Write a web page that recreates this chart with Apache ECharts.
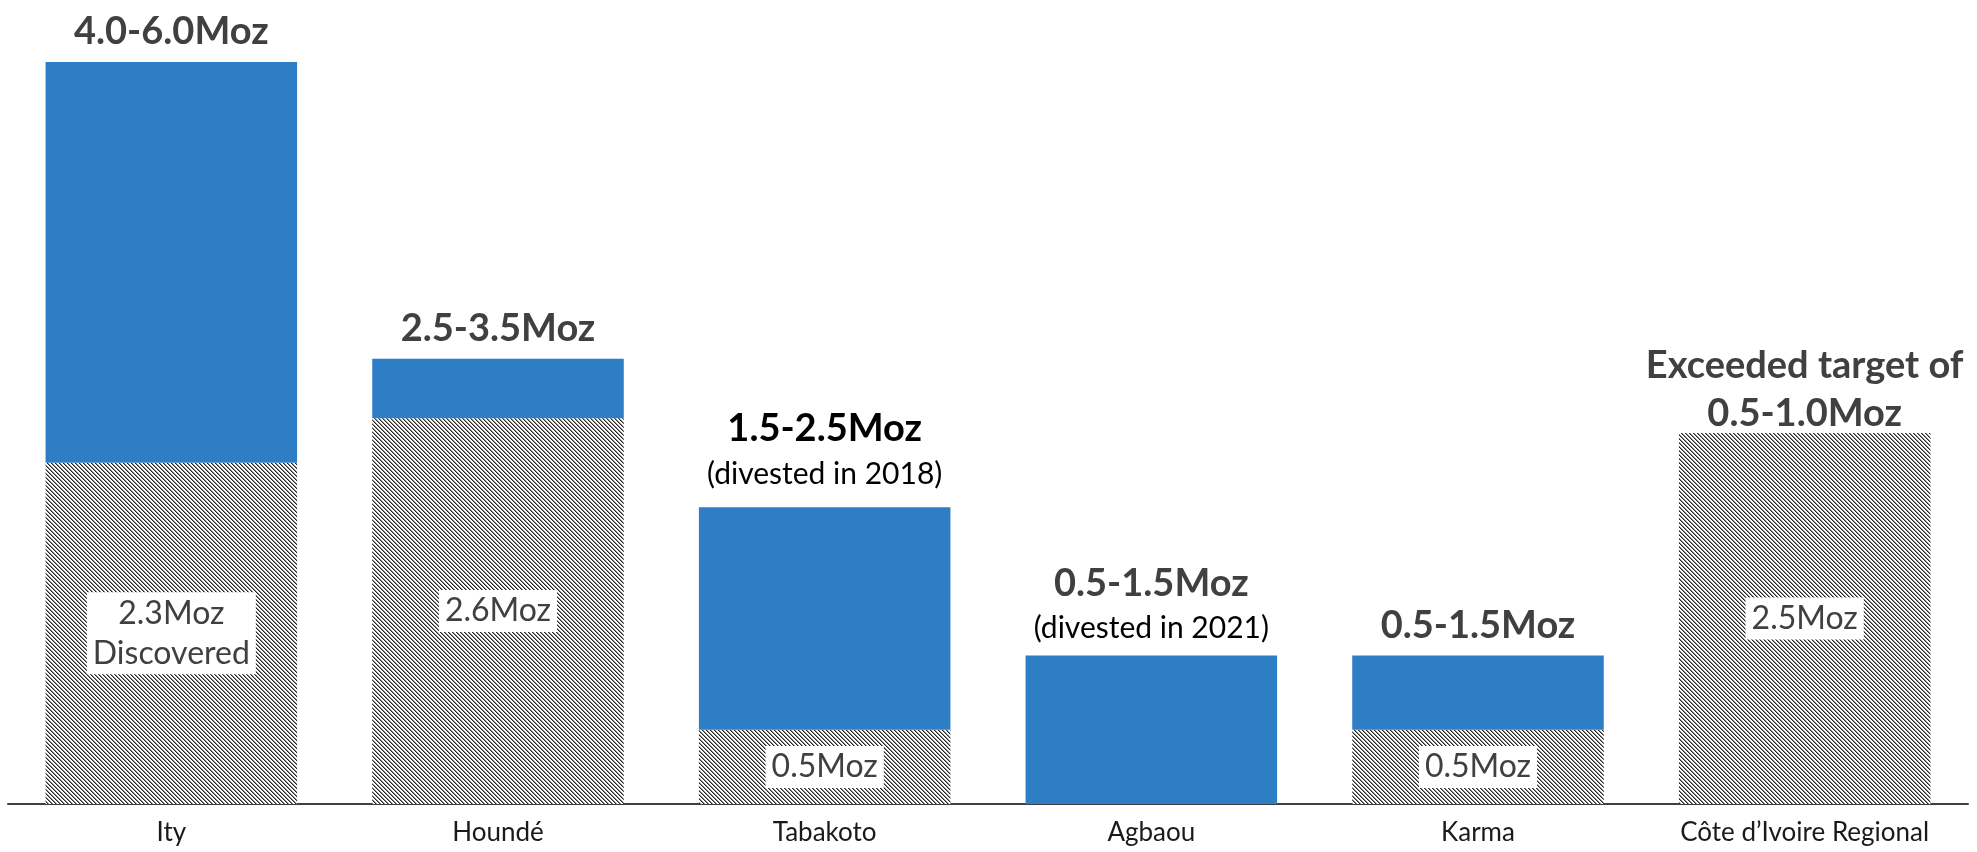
<!DOCTYPE html>
<html>
<head>
<meta charset="utf-8">
<script src="https://cdn.jsdelivr.net/npm/echarts@6/dist/echarts.min.js"></script>
<style>
  html, body { margin: 0; padding: 0; background: #fff; }
  #chart { width: 1977px; height: 852px; }
</style>
</head>
<body>
<div id="chart"></div>
<script>
// Project names along the axis
const projects = ['Ity', 'Houndé', 'Tabakoto', 'Agbaou', 'Karma', 'Côte d\u2019Ivoire Regional'];
// Ounces already discovered (Moz), drawn hatched at the base of each bar
const discovered = [2.3, 2.6, 0.5, 0, 0.5, 2.5];
// Remaining discovery target up to the range midpoint (Moz), drawn solid on top
const targetRemaining = [2.7, 0.4, 1.5, 1.0, 0.5, 0];
// Target range labels above each bar
const targetLabels = ['4.0-6.0Moz', '2.5-3.5Moz', '1.5-2.5Moz', '0.5-1.5Moz', '0.5-1.5Moz', 'Exceeded target of\n0.5-1.0Moz'];
// Secondary notes under the range labels
const targetNotes = ['', '', '(divested in 2018)', '(divested in 2021)', '', ''];
// Text inside the hatched part
const discoveredLabels = ['2.3Moz\nDiscovered', '2.6Moz', '0.5Moz', '', '0.5Moz', '2.5Moz'];

const FONT = 'Lato, "Open Sans", sans-serif';

// Diagonal hatch tile (downward lines, 4px period)
function hatchPattern() {
  const c = document.createElement('canvas');
  c.width = 4; c.height = 4;
  const ctx = c.getContext('2d');
  ctx.fillStyle = '#ffffff';
  ctx.fillRect(0, 0, 4, 4);
  for (let y = 0; y < 4; y++) {
    ctx.fillStyle = '#262626';
    ctx.fillRect(y % 4, y, 1, 1);
    ctx.fillStyle = '#8c8c8c';
    ctx.fillRect((y + 1) % 4, y, 1, 1);
  }
  return c;
}
const hatch = { image: hatchPattern(), repeat: 'repeat' };

const chart = echarts.init(document.getElementById('chart'), null, { renderer: 'canvas' });

const hatchData = discovered.map((v, i) => ({
  value: v,
  label: { show: !!discoveredLabels[i], formatter: discoveredLabels[i] }
}));

// Per-bar gap between the range label and the bar top
const labelGap = [6, 6, 12, 6, 6, -5];

const topData = targetRemaining.map((v, i) => {
  const darkMain = i === 2;
  let fmt = '{main|' + targetLabels[i].split('\n').join('}\n{main|') + '}';
  if (targetNotes[i]) fmt += '\n{note|' + targetNotes[i] + '}';
  return {
    value: v,
    label: {
      formatter: fmt,
      distance: labelGap[i],
      rich: {
        main: { fontFamily: FONT, fontWeight: 'bold', fontSize: 38, lineHeight: 48, color: darkMain ? '#000000' : '#404040' },
        note: { fontFamily: FONT, fontSize: 30, lineHeight: 42, color: '#000000' }
      }
    }
  };
});

chart.setOption({
  animation: false,
  grid: { left: 8, right: 9, top: 62, bottom: 48, containLabel: false },
  xAxis: {
    type: 'category',
    data: projects,
    axisTick: { show: false },
    axisLine: { lineStyle: { color: '#404040', width: 2 } },
    axisLabel: { fontFamily: FONT, fontSize: 26, color: '#1a1a1a', margin: 16 }
  },
  yAxis: {
    type: 'value',
    min: 0,
    max: 5,
    show: false,
    splitLine: { show: false }
  },
  series: [
    {
      name: 'Discovered',
      type: 'bar',
      stack: 'total',
      barWidth: '77%',
      data: hatchData,
      itemStyle: { color: hatch },
      label: {
        position: 'inside',
        fontFamily: FONT,
        fontSize: 32,
        lineHeight: 40,
        color: '#404040',
        backgroundColor: '#ffffff',
        padding: [1, 6]
      }
    },
    {
      name: 'Target',
      type: 'bar',
      stack: 'total',
      barWidth: '77%',
      data: topData,
      itemStyle: { color: '#2E7EC6' },
      label: { show: true, position: 'top', align: 'center' }
    }
  ]
});
</script>
</body>
</html>
